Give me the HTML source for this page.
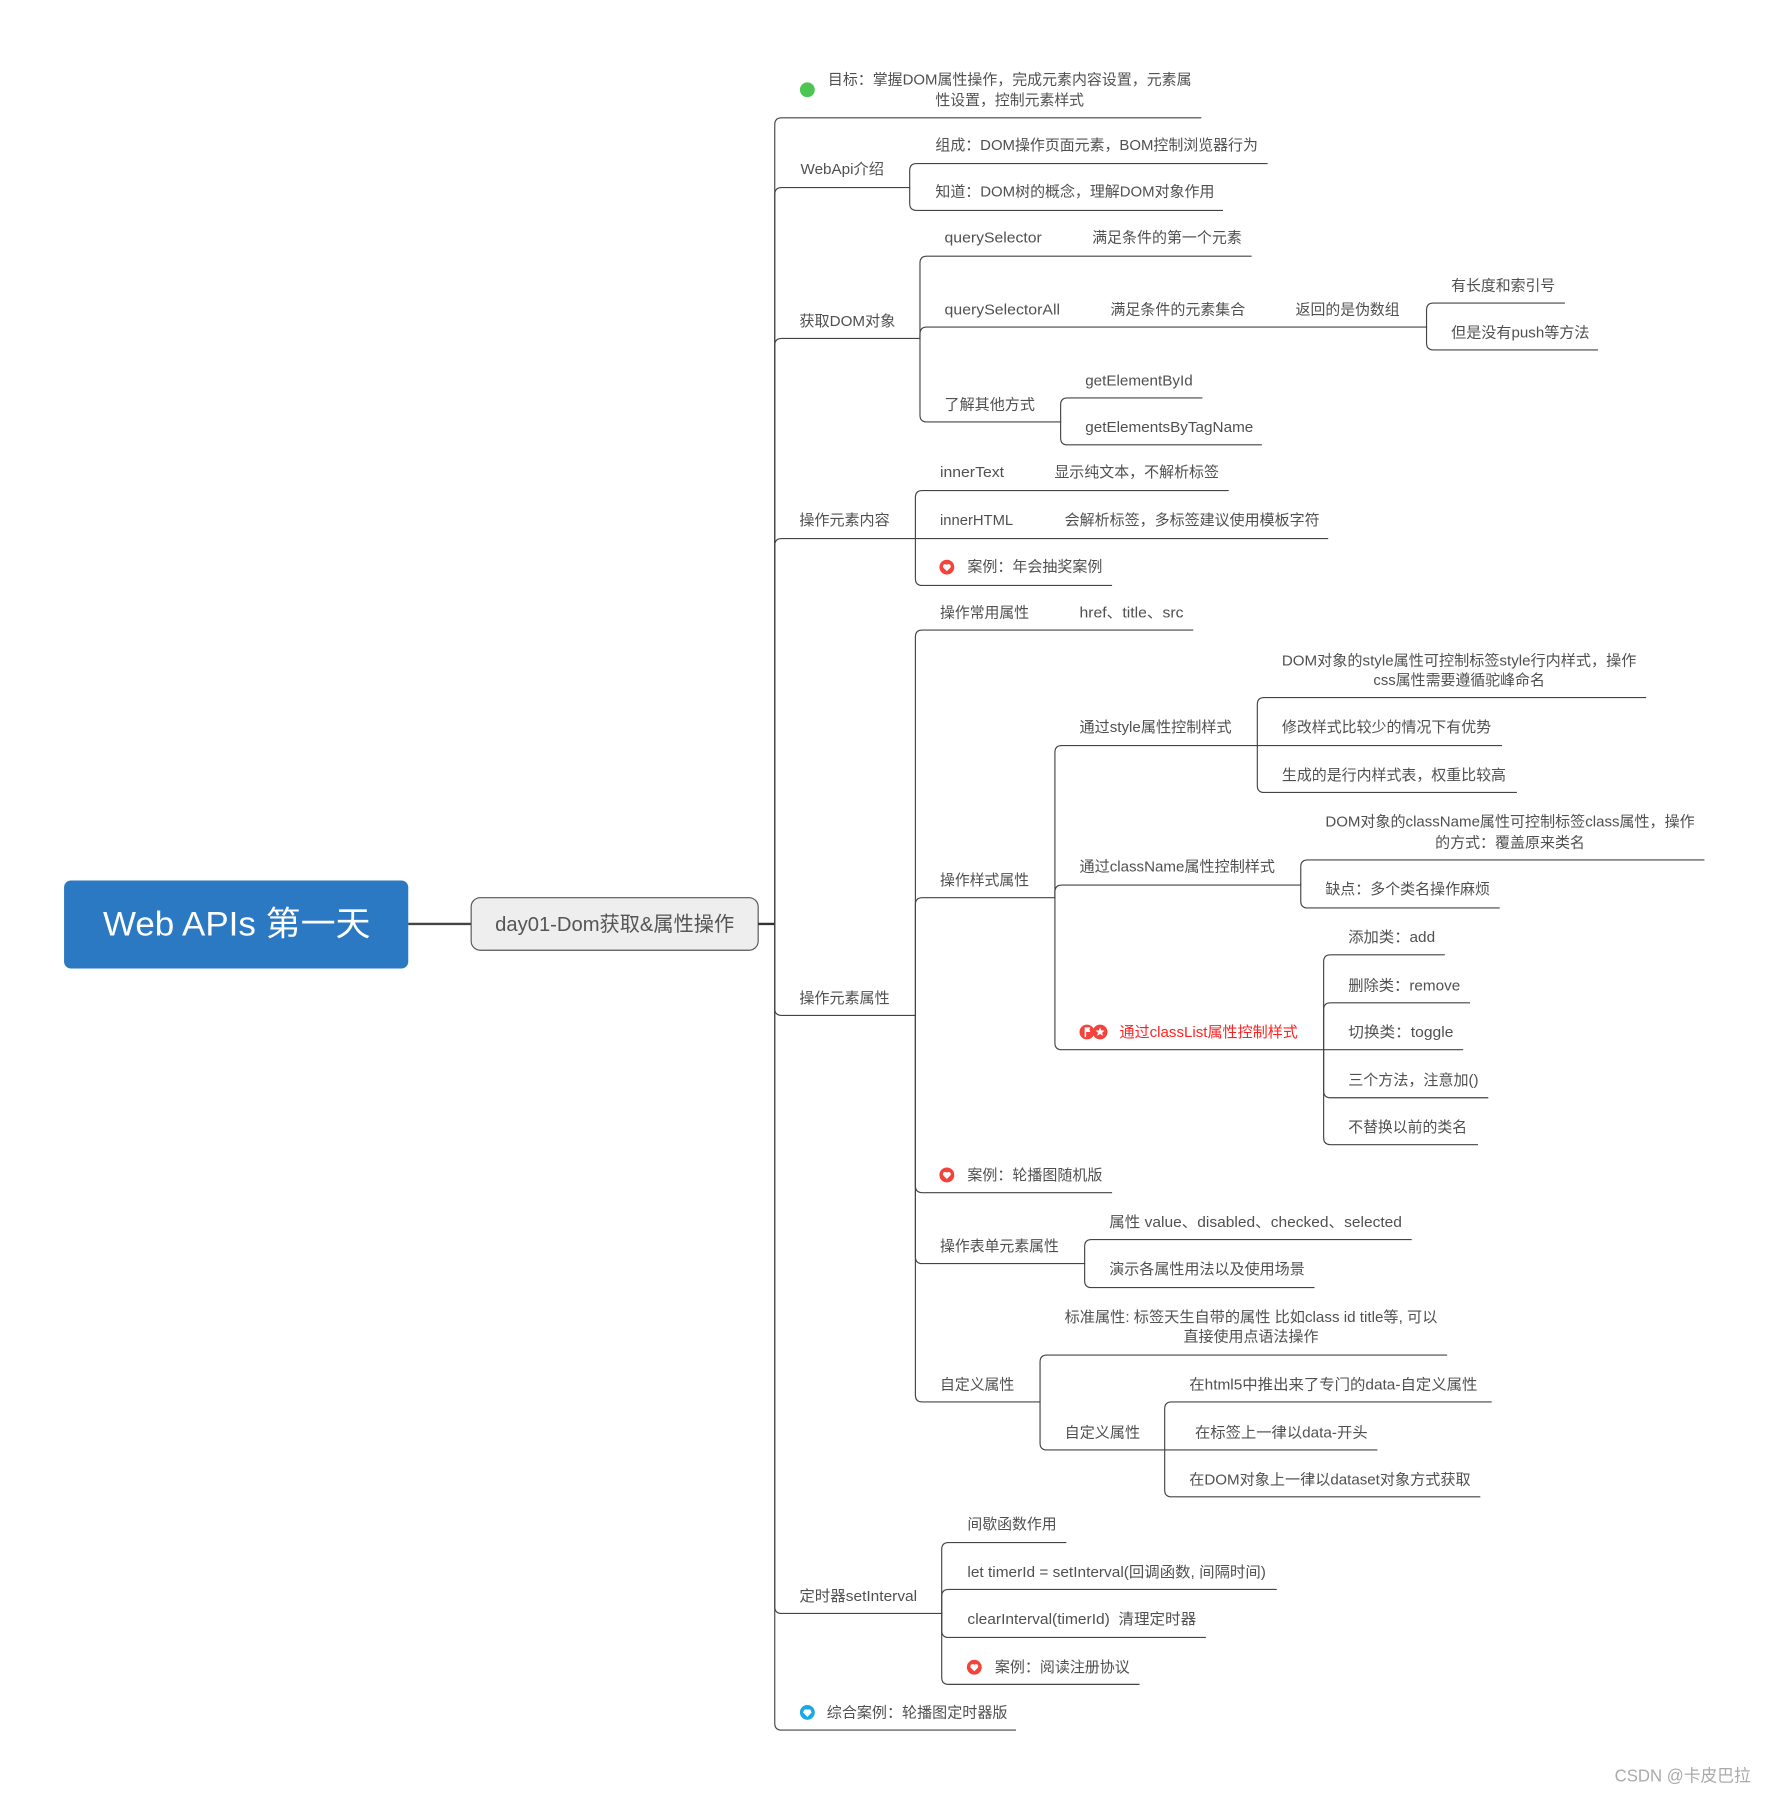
<!DOCTYPE html>
<html><head><meta charset="utf-8"><title>Web APIs 第一天</title>
<style>
html,body{margin:0;padding:0;background:#fff;width:1767px;height:1793px;overflow:hidden}
svg{display:block}
text{font-family:"Liberation Sans","Noto Sans CJK SC",sans-serif;font-size:13px;fill:#505050}
.l{fill:none;stroke:#444;stroke-width:1;stroke-linecap:square}
</style></head><body>
<svg xmlns="http://www.w3.org/2000/svg" width="1767" height="1793" viewBox="0 0 1545.2 1568">
<rect x="56" y="770" width="301" height="77" rx="6" fill="#2b79c2"/>
<path d="M357 808H412" stroke="#444" stroke-width="2" fill="none"/>
<rect x="412" y="785" width="251" height="46" rx="8" fill="#eee" stroke="#555" stroke-width="1"/>
<path d="M663 808H677.5" stroke="#333" stroke-width="2" fill="none"/>
<g class="l">
<path class="l" d="M677.5 808V109Q677.5 103 683.5 103H1050"/>
<path class="l" d="M677.5 808V170Q677.5 164 683.5 164H795"/>
<path class="l" d="M677.5 808V302Q677.5 296 683.5 296H804"/>
<path class="l" d="M677.5 808V477Q677.5 471 683.5 471H800"/>
<path class="l" d="M677.5 808V882Q677.5 888 683.5 888H800"/>
<path class="l" d="M677.5 808V1405Q677.5 1411 683.5 1411H823"/>
<path class="l" d="M677.5 808V1507Q677.5 1513 683.5 1513H888"/>
<path class="l" d="M795.5 164V149Q795.5 143 801.5 143H1108"/>
<path class="l" d="M795.5 164V178Q795.5 184 801.5 184H1069"/>
<path class="l" d="M804.5 296V230Q804.5 224 810.5 224H1094"/>
<path class="l" d="M804.5 296V292Q804.5 286 810.5 286H1247"/>
<path class="l" d="M804.5 296V363Q804.5 369 810.5 369H927"/>
<path class="l" d="M1247.5 286V271Q1247.5 265 1253.5 265H1368"/>
<path class="l" d="M1247.5 286V300Q1247.5 306 1253.5 306H1397"/>
<path class="l" d="M927.5 369V354Q927.5 348 933.5 348H1051"/>
<path class="l" d="M927.5 369V383Q927.5 389 933.5 389H1103"/>
<path class="l" d="M800.5 471V435Q800.5 429 806.5 429H1074"/>
<path class="l" d="M800.5 471H1161"/>
<path class="l" d="M800.5 471V506Q800.5 512 806.5 512H972"/>
<path class="l" d="M800.5 888V557Q800.5 551 806.5 551H1043"/>
<path class="l" d="M800.5 888V791Q800.5 785 806.5 785H922"/>
<path class="l" d="M800.5 888V1037Q800.5 1043 806.5 1043H972"/>
<path class="l" d="M800.5 888V1099Q800.5 1105 806.5 1105H948"/>
<path class="l" d="M800.5 888V1220Q800.5 1226 806.5 1226H909"/>
<path class="l" d="M922.5 785V658Q922.5 652 928.5 652H1099"/>
<path class="l" d="M922.5 785V780Q922.5 774 928.5 774H1137"/>
<path class="l" d="M922.5 785V912Q922.5 918 928.5 918H1157"/>
<path class="l" d="M1099.5 652V616Q1099.5 610 1105.5 610H1439"/>
<path class="l" d="M1099.5 652H1313"/>
<path class="l" d="M1099.5 652V687Q1099.5 693 1105.5 693H1326"/>
<path class="l" d="M1137.5 773V758Q1137.5 752 1143.5 752H1490"/>
<path class="l" d="M1137.5 773V788Q1137.5 794 1143.5 794H1311"/>
<path class="l" d="M1157.5 918V841Q1157.5 835 1163.5 835H1263"/>
<path class="l" d="M1157.5 918V883Q1157.5 877 1163.5 877H1285"/>
<path class="l" d="M1157.5 918H1279"/>
<path class="l" d="M1157.5 918V954Q1157.5 960 1163.5 960H1301"/>
<path class="l" d="M1157.5 918V995Q1157.5 1001 1163.5 1001H1292"/>
<path class="l" d="M948.5 1105V1090Q948.5 1084 954.5 1084H1234"/>
<path class="l" d="M948.5 1105V1120Q948.5 1126 954.5 1126H1149"/>
<path class="l" d="M909.5 1226V1191Q909.5 1185 915.5 1185H1265"/>
<path class="l" d="M909.5 1226V1262Q909.5 1268 915.5 1268H1018"/>
<path class="l" d="M1018.5 1268V1232Q1018.5 1226 1024.5 1226H1304"/>
<path class="l" d="M1018.5 1268H1204"/>
<path class="l" d="M1018.5 1268V1303Q1018.5 1309 1024.5 1309H1294"/>
<path class="l" d="M823.5 1411V1355Q823.5 1349 829.5 1349H932"/>
<path class="l" d="M823.5 1411V1396Q823.5 1390 829.5 1390H1116"/>
<path class="l" d="M823.5 1411V1426Q823.5 1432 829.5 1432H1054"/>
<path class="l" d="M823.5 1411V1467Q823.5 1473 829.5 1473H996"/>
</g>
<circle cx="706" cy="78.500" r="6.500" fill="#4cc552"/>
<circle cx="828" cy="496" r="6.500" fill="#f4433c"/><path d="M828 499.500l-3-3a1.900 1.900 0 0 1 3-2.500a1.900 1.900 0 0 1 3 2.500z" fill="#fff"/>
<circle cx="828" cy="1027.500" r="6.500" fill="#f4433c"/><path d="M828 1031l-3-3a1.900 1.900 0 0 1 3-2.500a1.900 1.900 0 0 1 3 2.500z" fill="#fff"/>
<circle cx="852" cy="1458" r="6.500" fill="#f4433c"/><path d="M852 1461.500l-3-3a1.900 1.900 0 0 1 3-2.500a1.900 1.900 0 0 1 3 2.500z" fill="#fff"/>
<circle cx="706" cy="1497.500" r="6.500" fill="#1aa9e6"/><path d="M706 1501.500l-3.800-4 1.300-2.500h5l1.300 2.500z" fill="#fff"/>
<circle cx="950.500" cy="902.500" r="6.500" fill="#f4433c"/><path d="M948.500 907v-8.500h5l-.8 2 .8 2H949.800v4.500z" fill="#fff"/>
<circle cx="962" cy="902.500" r="6.500" fill="#f4433c"/><path d="M962 898.500l1.100 2.600 2.800.2-2.100 1.800.7 2.700-2.500-1.500-2.500 1.500.7-2.700-2.100-1.800 2.800-.2z" fill="#fff"/>
<text x="90" y="818" textLength="234" lengthAdjust="spacingAndGlyphs" style="font-size:30px;fill:#fff">Web APIs 第一天</text>
<text x="433" y="814" textLength="209" lengthAdjust="spacingAndGlyphs" style="font-size:18px;fill:#555">day01-Dom获取&amp;属性操作</text>
<text x="724" y="74" textLength="318" lengthAdjust="spacingAndGlyphs">目标：掌握DOM属性操作，完成元素内容设置，元素属</text>
<text x="818" y="92" textLength="130" lengthAdjust="spacingAndGlyphs">性设置，控制元素样式</text>
<text x="700" y="152" textLength="73" lengthAdjust="spacingAndGlyphs">WebApi介绍</text>
<text x="818" y="131" textLength="282" lengthAdjust="spacingAndGlyphs">组成：DOM操作页面元素，BOM控制浏览器行为</text>
<text x="818" y="172" textLength="244" lengthAdjust="spacingAndGlyphs">知道：DOM树的概念，理解DOM对象作用</text>
<text x="826" y="212" textLength="85" lengthAdjust="spacingAndGlyphs">querySelector</text>
<text x="955" y="212" textLength="131" lengthAdjust="spacingAndGlyphs">满足条件的第一个元素</text>
<text x="826" y="275" textLength="101" lengthAdjust="spacingAndGlyphs">querySelectorAll</text>
<text x="971" y="275" textLength="118" lengthAdjust="spacingAndGlyphs">满足条件的元素集合</text>
<text x="1133" y="275" textLength="91" lengthAdjust="spacingAndGlyphs">返回的是伪数组</text>
<text x="1269" y="254" textLength="91" lengthAdjust="spacingAndGlyphs">有长度和索引号</text>
<text x="1269" y="295" textLength="121" lengthAdjust="spacingAndGlyphs">但是没有push等方法</text>
<text x="699" y="285" textLength="84" lengthAdjust="spacingAndGlyphs">获取DOM对象</text>
<text x="826" y="358" textLength="79" lengthAdjust="spacingAndGlyphs">了解其他方式</text>
<text x="949" y="337" textLength="94" lengthAdjust="spacingAndGlyphs">getElementById</text>
<text x="949" y="378" textLength="147" lengthAdjust="spacingAndGlyphs">getElementsByTagName</text>
<text x="699" y="459" textLength="79" lengthAdjust="spacingAndGlyphs">操作元素内容</text>
<text x="822" y="417" textLength="56" lengthAdjust="spacingAndGlyphs">innerText</text>
<text x="922" y="417" textLength="144" lengthAdjust="spacingAndGlyphs">显示纯文本，不解析标签</text>
<text x="822" y="459" textLength="64" lengthAdjust="spacingAndGlyphs">innerHTML</text>
<text x="931" y="459" textLength="223" lengthAdjust="spacingAndGlyphs">会解析标签，多标签建议使用模板字符</text>
<text x="846" y="500" textLength="118" lengthAdjust="spacingAndGlyphs">案例：年会抽奖案例</text>
<text x="822" y="540" textLength="78" lengthAdjust="spacingAndGlyphs">操作常用属性</text>
<text x="944" y="540" textLength="91" lengthAdjust="spacingAndGlyphs">href、title、src</text>
<text x="1121" y="582" textLength="310" lengthAdjust="spacingAndGlyphs">DOM对象的style属性可控制标签style行内样式，操作</text>
<text x="1201" y="599" textLength="150" lengthAdjust="spacingAndGlyphs">css属性需要遵循驼峰命名</text>
<text x="944" y="640" textLength="133" lengthAdjust="spacingAndGlyphs">通过style属性控制样式</text>
<text x="1121" y="640" textLength="183" lengthAdjust="spacingAndGlyphs">修改样式比较少的情况下有优势</text>
<text x="1121" y="682" textLength="196" lengthAdjust="spacingAndGlyphs">生成的是行内样式表，权重比较高</text>
<text x="1159" y="723" textLength="323" lengthAdjust="spacingAndGlyphs">DOM对象的className属性可控制标签class属性，操作</text>
<text x="1255" y="741" textLength="131" lengthAdjust="spacingAndGlyphs">的方式：覆盖原来类名</text>
<text x="944" y="762" textLength="171" lengthAdjust="spacingAndGlyphs">通过className属性控制样式</text>
<text x="822" y="774" textLength="78" lengthAdjust="spacingAndGlyphs">操作样式属性</text>
<text x="1159" y="782" textLength="144" lengthAdjust="spacingAndGlyphs">缺点：多个类名操作麻烦</text>
<text x="1179" y="824" textLength="76" lengthAdjust="spacingAndGlyphs">添加类：add</text>
<text x="1179" y="866" textLength="98" lengthAdjust="spacingAndGlyphs">删除类：remove</text>
<text x="1179" y="907" textLength="92" lengthAdjust="spacingAndGlyphs">切换类：toggle</text>
<text x="1179" y="949" textLength="114" lengthAdjust="spacingAndGlyphs">三个方法，注意加()</text>
<text x="1179" y="990" textLength="104" lengthAdjust="spacingAndGlyphs">不替换以前的类名</text>
<text x="979" y="907" textLength="156" lengthAdjust="spacingAndGlyphs" style="fill:#f22">通过classList属性控制样式</text>
<text x="699" y="877" textLength="79" lengthAdjust="spacingAndGlyphs">操作元素属性</text>
<text x="846" y="1032" textLength="118" lengthAdjust="spacingAndGlyphs">案例：轮播图随机版</text>
<text x="822" y="1094" textLength="104" lengthAdjust="spacingAndGlyphs">操作表单元素属性</text>
<text x="970" y="1073" textLength="256" lengthAdjust="spacingAndGlyphs">属性 value、disabled、checked、selected</text>
<text x="970" y="1114" textLength="171" lengthAdjust="spacingAndGlyphs">演示各属性用法以及使用场景</text>
<text x="931" y="1156" textLength="326" lengthAdjust="spacingAndGlyphs">标准属性: 标签天生自带的属性 比如class id title等, 可以</text>
<text x="1035" y="1173" textLength="118" lengthAdjust="spacingAndGlyphs">直接使用点语法操作</text>
<text x="822" y="1215" textLength="65" lengthAdjust="spacingAndGlyphs">自定义属性</text>
<text x="931" y="1257" textLength="66" lengthAdjust="spacingAndGlyphs">自定义属性</text>
<text x="1040" y="1215" textLength="252" lengthAdjust="spacingAndGlyphs">在html5中推出来了专门的data-自定义属性</text>
<text x="1045" y="1257" textLength="151" lengthAdjust="spacingAndGlyphs">在标签上一律以data-开头</text>
<text x="1040" y="1298" textLength="246" lengthAdjust="spacingAndGlyphs">在DOM对象上一律以dataset对象方式获取</text>
<text x="699" y="1400" textLength="103" lengthAdjust="spacingAndGlyphs">定时器setInterval</text>
<text x="846" y="1337" textLength="78" lengthAdjust="spacingAndGlyphs">间歇函数作用</text>
<text x="846" y="1379" textLength="261" lengthAdjust="spacingAndGlyphs">let timerId = setInterval(回调函数, 间隔时间)</text>
<text x="846" y="1420" textLength="200" lengthAdjust="spacingAndGlyphs" xml:space="preserve" style="white-space:pre">clearInterval(timerId)  清理定时器</text>
<text x="870" y="1462" textLength="118" lengthAdjust="spacingAndGlyphs">案例：阅读注册协议</text>
<text x="723" y="1502" textLength="158" lengthAdjust="spacingAndGlyphs">综合案例：轮播图定时器版</text>
<text x="1412" y="1558" textLength="119" lengthAdjust="spacingAndGlyphs" style="font-size:15px;fill:#aaa">CSDN @卡皮巴拉</text>
</svg>
</body></html>
